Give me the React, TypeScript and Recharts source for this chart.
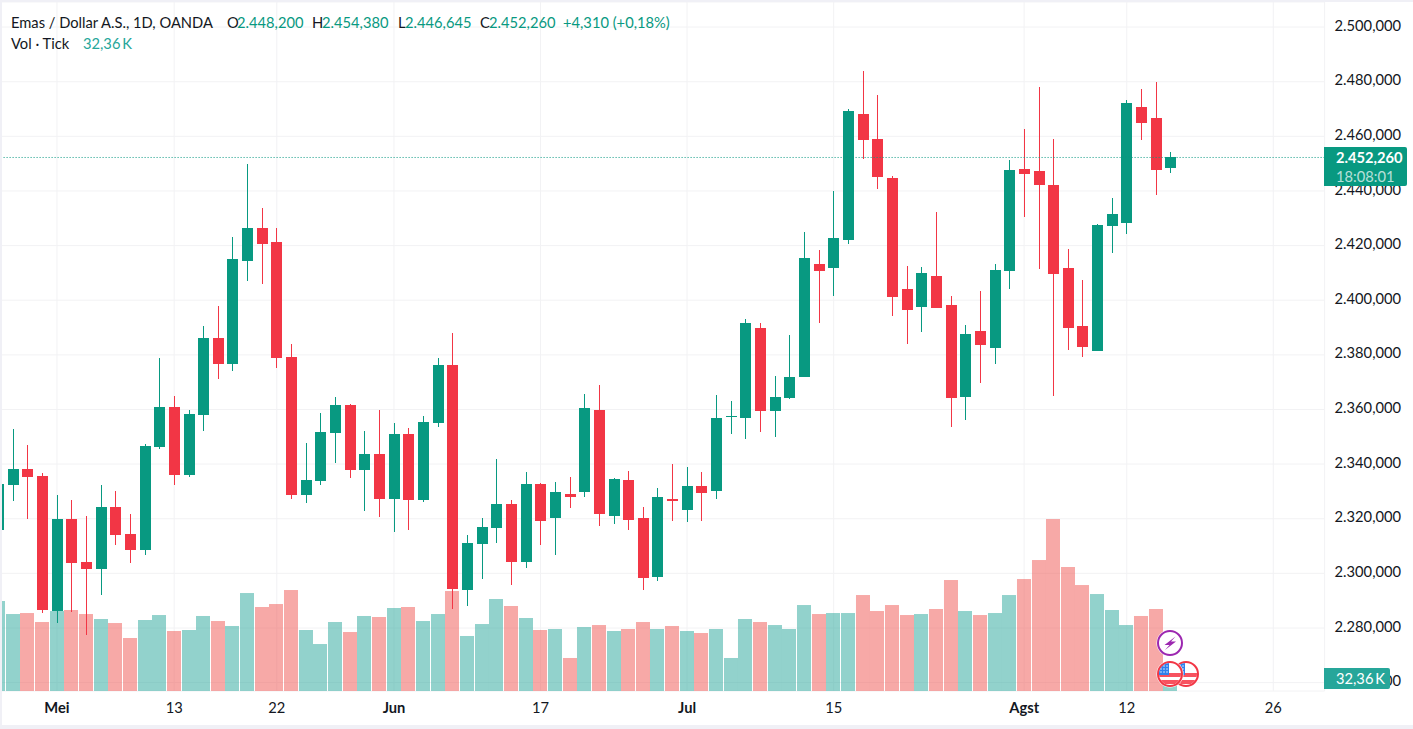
import { Bar, CartesianGrid, ComposedChart, ReferenceLine, XAxis, YAxis } from "recharts";

const UP = "#089981";
const DOWN = "#F23645";
const VOL_UP = "rgba(38,166,154,0.5)";
const VOL_DOWN = "rgba(239,83,80,0.5)";
const GRID = "#F2F2F4";
const BORDER = "#F0F0F6";
const TEXT = "#131722";
const FONT = "Lato, 'Open Sans', sans-serif";
const FONT_SIZE = 14.7;

const dates = [
  "25 Apr", "26 Apr", "29 Apr", "30 Apr",
  "1 Mei", "2 Mei", "3 Mei", "6 Mei", "7 Mei", "8 Mei", "9 Mei", "10 Mei",
  "13 Mei", "14 Mei", "15 Mei", "16 Mei", "17 Mei", "20 Mei", "21 Mei",
  "22 Mei", "23 Mei", "24 Mei", "27 Mei", "28 Mei", "29 Mei", "30 Mei", "31 Mei",
  "3 Jun", "4 Jun", "5 Jun", "6 Jun", "7 Jun", "10 Jun", "11 Jun", "12 Jun", "13 Jun", "14 Jun",
  "17 Jun", "18 Jun", "19 Jun", "20 Jun", "21 Jun", "24 Jun", "25 Jun", "26 Jun", "27 Jun", "28 Jun",
  "1 Jul", "2 Jul", "3 Jul", "4 Jul", "5 Jul", "8 Jul", "9 Jul", "10 Jul", "11 Jul", "12 Jul",
  "15 Jul", "16 Jul", "17 Jul", "18 Jul", "19 Jul", "22 Jul", "23 Jul", "24 Jul", "25 Jul", "26 Jul",
  "29 Jul", "30 Jul", "31 Jul",
  "1 Agst", "2 Agst", "5 Agst", "6 Agst", "7 Agst", "8 Agst", "9 Agst",
  "12 Agst", "13 Agst", "14 Agst", "15 Agst", "16 Agst",
  "19 Agst", "20 Agst", "21 Agst", "22 Agst", "23 Agst",
  "26 Agst", "27 Agst", "28 Agst", "29 Agst",
];

const tickDates = ["1 Mei", "13 Mei", "22 Mei", "3 Jun", "17 Jun", "1 Jul", "15 Jul", "1 Agst", "12 Agst", "26 Agst"];
const tickTexts = ["Mei", "13", "22", "Jun", "17", "Jul", "15", "Agst", "12", "26"];
const monthTicks = ["Mei", "Jun", "Jul", "Agst"];
const priceTicks = [2260, 2280, 2300, 2320, 2340, 2360, 2380, 2400, 2420, 2440, 2460, 2480, 2500];

// prices in thousands
const opens = [
  2315.9, 2332.3, 2338.2, 2335.6, 2286.4, 2319.9, 2304.2, 2301.7, 2324.3, 2314.5,
  2308.6, 2346.2, 2360.8, 2336, 2358, 2386.1, 2376.6, 2414.6, 2426.6, 2421.2,
  2379.2, 2328.7, 2333.8, 2351.3, 2361.5, 2337.8, 2343.6, 2327.2, 2350.9, 2326.9,
  2355, 2376.1, 2294, 2310.8, 2316.6, 2325.4, 2304.2, 2332.7, 2320.3, 2329,
  2329.8, 2359.7, 2321, 2334.2, 2320.3, 2298.8, 2327.2, 2323.2, 2332, 2330.2,
  2357.1, 2357.2, 2389.7, 2359.4, 2364.1, 2372.1, 2413.4, 2411.9, 2422.1, 2468.1,
  2459, 2444.7, 2404.2, 2397.7, 2409, 2398.4, 2364.5, 2388.9, 2382.7, 2410.8,
  2448, 2447.3, 2442.2, 2411.9, 2390.7, 2381.6, 2427.2, 2428, 2470.6, 2466.6,
  2448.2,
];
const highs = [
  2338, 2352.8, 2346.9, 2336.7, 2328.7, 2326.9, 2321, 2332.3, 2330.1, 2321.8,
  2347.3, 2378.7, 2364.8, 2359.7, 2390.5, 2397.8, 2423, 2450, 2433.9, 2426.6,
  2383.9, 2347.7, 2358.6, 2364.4, 2361.9, 2352, 2359.7, 2355, 2353.1, 2357.5,
  2378.7, 2388, 2314.1, 2320.3, 2341.8, 2326.9, 2337.1, 2333, 2333.4, 2335.3,
  2365.5, 2368.8, 2334.9, 2337.4, 2324.3, 2331.2, 2340, 2338.9, 2337.1, 2365.3,
  2363, 2393.3, 2391.5, 2372.1, 2387.1, 2425, 2418.5, 2440, 2469.9, 2483.8,
  2475, 2445.5, 2412.6, 2412.3, 2432.3, 2401.7, 2391.1, 2403.5, 2413.4, 2451.3,
  2462.6, 2477.9, 2459, 2418.8, 2407.5, 2428, 2437.4, 2473.2, 2477.2, 2480,
  2454.38,
];
const lows = [
  2310, 2326.5, 2319.9, 2285.6, 2282, 2286, 2277.6, 2292.2, 2310.4, 2303.9,
  2306.8, 2345.5, 2332.3, 2335.3, 2352.2, 2371.2, 2374.1, 2407.3, 2406.2, 2375.2,
  2327.2, 2325.8, 2332.3, 2340.4, 2334.9, 2322.8, 2320.7, 2315.2, 2315.9, 2326.1,
  2353.5, 2287.1, 2288.2, 2298, 2311.2, 2295.9, 2302.1, 2310.4, 2306.8, 2323.9,
  2327.9, 2317, 2318.1, 2315.9, 2294, 2297, 2319.2, 2318.8, 2319.3, 2327.2,
  2351, 2349.2, 2351.7, 2349.9, 2363.8, 2371.8, 2391.8, 2401.7, 2420.3, 2451.7,
  2440.7, 2394.4, 2384.2, 2388.6, 2397, 2353.9, 2356.5, 2370, 2376.9, 2404.2,
  2430.5, 2411.2, 2364.8, 2382, 2379.4, 2381.6, 2417.4, 2424.3, 2458.6, 2438.5,
  2446.645,
];
const closes = [
  2332.7, 2338.2, 2335.3, 2286.4, 2319.9, 2303.9, 2301.7, 2324.3, 2314.1, 2308.6,
  2346.6, 2360.8, 2336, 2358.2, 2386.1, 2376.6, 2415, 2426.6, 2420.8, 2378.8,
  2328.7, 2334.2, 2351.7, 2361.5, 2337.8, 2343.6, 2327.2, 2350.9, 2326.9, 2355.3,
  2376.1, 2294, 2311.2, 2317, 2325.4, 2304.2, 2332.7, 2319.2, 2329.8, 2327.9,
  2360.4, 2321.8, 2334.5, 2319.6, 2298.4, 2328, 2326.5, 2332, 2329.4, 2356.8,
  2357.5, 2391.8, 2359.4, 2364.5, 2371.8, 2415.6, 2410.8, 2422.8, 2469.2, 2458.6,
  2445.1, 2401, 2396.6, 2410.1, 2397.3, 2364.5, 2387.5, 2383.8, 2411.2, 2447.7,
  2446.2, 2442.2, 2409.7, 2390, 2383.1, 2427.6, 2431.6, 2472.1, 2464.8, 2447.7,
  2452.26,
];
const volumes = [
  224.1, 191.7, 194.2, 171.8, 199.2, 201.7, 191.7, 179.3, 169.3, 132,
  176.8, 189.2, 149.4, 151.9, 186.8, 174.3, 161.9, 244, 209.2, 216.6,
  251.5, 151.9, 117, 171.8, 146.9, 186.8, 184.3, 206.7, 209.2, 174.3,
  191.7, 249, 137, 166.8, 229.1, 211.7, 181.8, 151.9, 154.4, 82.2,
  159.4, 164.3, 149.4, 154.4, 171.8, 154.4, 161.9, 149.4, 144.4, 154.4,
  82.2, 179.3, 171.8, 164.3, 154.4, 214.1, 191.7, 194.2, 194.2, 239,
  199.2, 214.1, 189.2, 191.7, 204.2, 276.4, 199.2, 189.2, 194.2, 239,
  278.9, 326.2, 428.3, 308.8, 263.9, 241.5, 201.7, 164.3, 186.8, 204.2,
  32.36,
];

const lastPrice = 2452.26;

const data = dates.map((date, i) =>
  i < opens.length
    ? {
        date,
        open: opens[i],
        close: closes[i],
        body: [Math.min(opens[i], closes[i]), Math.max(opens[i], closes[i])],
        wick: [lows[i], highs[i]],
        volume: volumes[i],
      }
    : { date }
);

const headerParts = [
  { left: 11, text: "Emas / Dollar A.S., 1D, OANDA", color: TEXT },
  { left: 227, text: "O", color: TEXT },
  { left: 237, text: "2.448,200", color: UP },
  { left: 312, text: "H", color: TEXT },
  { left: 322, text: "2.454,380", color: UP },
  { left: 398, text: "L", color: TEXT },
  { left: 405, text: "2.446,645", color: UP },
  { left: 480, text: "C", color: TEXT },
  { left: 489, text: "2.452,260", color: UP },
  { left: 563, text: "+4,310 (+0,18%)", color: UP },
];

function CrispBar(props: any) {
  const { x, y, width, height, payload } = props;
  if (!payload || payload.open === undefined || height === undefined) return null;
  const up = payload.close >= payload.open;
  return (
    <rect
      x={Math.round(x)}
      y={Math.round(y)}
      width={Math.round(width)}
      height={Math.max(1, Math.round(height))}
      fill={up ? UP : DOWN}
    />
  );
}

function VolumeBar(props: any) {
  const { x, y, width, height, payload } = props;
  if (!payload || payload.open === undefined) return null;
  const up = payload.close >= payload.open;
  return (
    <rect
      x={Math.round(x)}
      y={y}
      width={Math.round(width)}
      height={height}
      fill={up ? VOL_UP : VOL_DOWN}
    />
  );
}

function DateTick(props: any) {
  const { x, payload } = props;
  const text = tickTexts[tickDates.indexOf(payload.value)];
  return (
    <text
      x={x}
      y={711}
      textAnchor="middle"
      fontFamily={FONT}
      fontSize={FONT_SIZE}
      fontWeight={monthTicks.includes(text) ? 700 : 400}
      fill={TEXT}
    >
      {text}
    </text>
  );
}

function formatPrice(v: number) {
  const s = v.toFixed(3).replace(".", ",");
  return s[0] + "." + s.slice(1);
}

function PriceTick(props: any) {
  const { x, y, payload } = props;
  return (
    <text x={x} y={y - 1.5} dy="0.35em" fontFamily={FONT} fontSize={FONT_SIZE} fill={TEXT}>
      {formatPrice(payload.value)}
    </text>
  );
}

function UsFlag({ cx, cy }: { cx: number; cy: number }) {
  const id = `flag${cx}`;
  const dots = [-9, -6, -3];
  return (
    <g>
      <clipPath id={id}>
        <circle cx={cx} cy={cy} r={11} />
      </clipPath>
      <circle cx={cx} cy={cy} r={13.5} fill="#fff" />
      <circle cx={cx} cy={cy} r={12} fill="#fff" stroke={DOWN} strokeWidth={2} />
      <g clipPath={`url(#${id})`}>
        <rect x={cx - 12} y={cy - 1} width={24} height={4} fill="#F7525F" />
        <rect x={cx - 12} y={cy + 6} width={24} height={4} fill="#F7525F" />
        <rect x={cx - 12} y={cy - 12} width={11} height={13} fill="#2F80ED" />
        {dots.map((dx) =>
          [-8, -5, -2].map((dy) => (
            <circle key={`${dx}${dy}`} cx={cx + dx} cy={cy + dy} r={0.7} fill="#fff" />
          ))
        )}
      </g>
    </g>
  );
}

export default function App() {
  return (
    <div style={{ position: "absolute", left: 0, top: 0, width: 1413, height: 729, background: BORDER, overflow: "hidden", fontFamily: FONT }}>
      <div style={{ position: "absolute", left: 2, top: 2, width: 1411, height: 723, background: "#fff", overflow: "hidden" }}>
        <div style={{ position: "absolute", left: -10.63, top: 0 }}>
          <ComposedChart
            width={1421.6}
            height={723}
            data={data}
            margin={{ top: 0, right: 0, bottom: 0, left: 0 }}
          >
            <CartesianGrid xAxisId="main" yAxisId="price" stroke={GRID} strokeWidth={1} />
            <XAxis
              xAxisId="main"
              dataKey="date"
              scale="band"
              ticks={tickDates}
              interval={0}
              height={34}
              axisLine={false}
              tickLine={false}
              tick={<DateTick />}
            />
            <XAxis xAxisId="vol" dataKey="date" scale="band" hide />
            <XAxis xAxisId="body" dataKey="date" scale="band" hide />
            <XAxis xAxisId="wick" dataKey="date" scale="band" hide />
            <YAxis
              yAxisId="price"
              orientation="right"
              width={88}
              domain={[2256.93, 2509.18]}
              allowDataOverflow
              ticks={priceTicks}
              interval={0}
              axisLine={false}
              tickLine={false}
              tickSize={0}
              tickMargin={10}
              tick={<PriceTick />}
            />
            <YAxis yAxisId="volume" hide domain={[0, 1716]} allowDataOverflow />
            <Bar
              xAxisId="vol"
              yAxisId="volume"
              dataKey="volume"
              barSize={14}
              shape={<VolumeBar />}
              isAnimationActive={false}
            />
            <Bar
              xAxisId="wick"
              yAxisId="price"
              dataKey="wick"
              barSize={1}
              shape={<CrispBar />}
              isAnimationActive={false}
            />
            <Bar
              xAxisId="body"
              yAxisId="price"
              dataKey="body"
              barSize={11}
              shape={<CrispBar />}
              isAnimationActive={false}
            />
            <ReferenceLine
              xAxisId="main"
              yAxisId="price"
              y={lastPrice}
              stroke={UP}
              strokeWidth={1}
              strokeDasharray="1 2"
            />
          </ComposedChart>
        </div>
      </div>

      {headerParts.map((p) => (
        <div key={p.left} style={{ position: "absolute", left: p.left, top: 12, fontSize: FONT_SIZE, lineHeight: "20px", color: p.color, whiteSpace: "nowrap" }}>
          {p.text}
        </div>
      ))}
      <div style={{ position: "absolute", left: 11, top: 33, fontSize: FONT_SIZE, lineHeight: "20px", color: TEXT, whiteSpace: "nowrap" }}>
        Vol · Tick
      </div>
      <div style={{ position: "absolute", left: 83, top: 33, fontSize: FONT_SIZE, lineHeight: "20px", color: "#26A69A", whiteSpace: "nowrap" }}>
        32,36{"\u2009"}K
      </div>

      <div style={{ position: "absolute", left: 1324, top: 147, width: 83, height: 39, background: UP, borderRadius: "0 2px 2px 0", color: "#fff", fontSize: FONT_SIZE, lineHeight: "19px", paddingTop: 1, paddingLeft: 12, boxSizing: "border-box", whiteSpace: "nowrap" }}>
        <div style={{ fontWeight: 700 }}>2.452,260</div>
        <div style={{ opacity: 0.7 }}>18:08:01</div>
      </div>
      <div style={{ position: "absolute", left: 1324, top: 668, width: 66, height: 21, background: "#26A69A", borderRadius: "0 2px 2px 0", color: "#fff", fontSize: FONT_SIZE, lineHeight: "21px", paddingLeft: 12, boxSizing: "border-box", whiteSpace: "nowrap" }}>
        32,36{"\u2009"}K
      </div>

      <svg style={{ position: "absolute", left: 0, top: 0 }} width={1413} height={729}>
        <circle cx={1170} cy={643} r={13.5} fill="#fff" />
        <circle cx={1170} cy={643} r={12} fill="#fff" stroke="#9C27B0" strokeWidth={2} />
        <path d="M1175.5 636.5 L1164.5 645 L1169.5 645 L1165 650 L1176 641.5 L1171 641.5 Z" fill="#9C27B0" />
        <UsFlag cx={1186} cy={674} />
        <UsFlag cx={1170} cy={674} />
      </svg>
    </div>
  );
}
